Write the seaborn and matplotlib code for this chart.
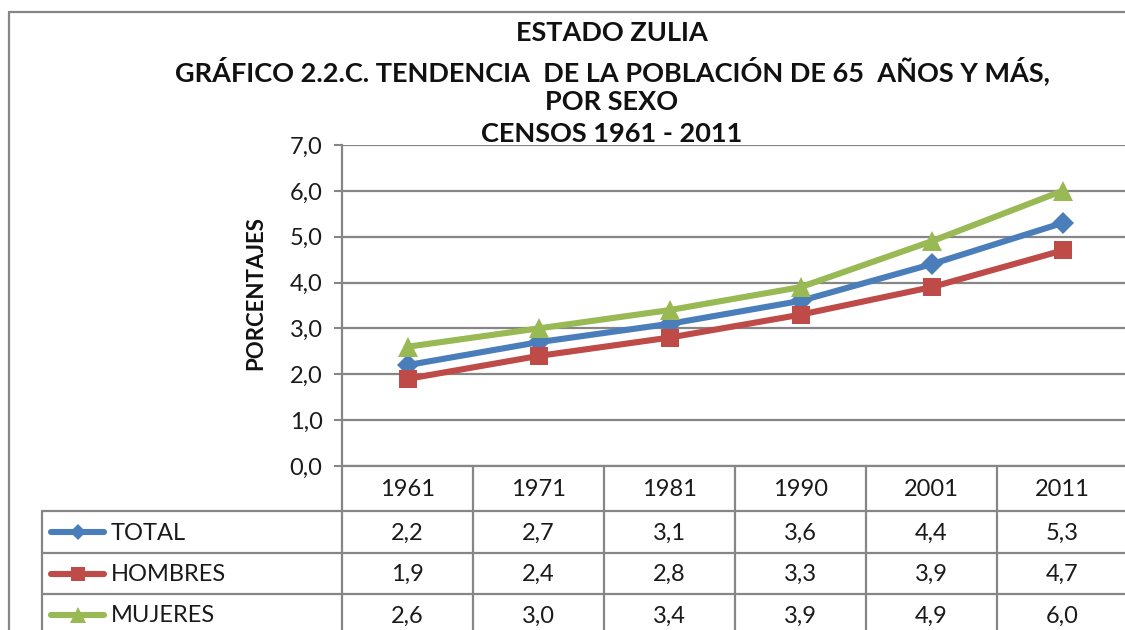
import matplotlib
matplotlib.use("Agg")
import matplotlib.pyplot as plt
import seaborn as sns
import pandas as pd

years = ["1961", "1971", "1981", "1990", "2001", "2011"]
series_names = ["TOTAL", "HOMBRES", "MUJERES"]
total = [2.2, 2.7, 3.1, 3.6, 4.4, 5.3]
hombres = [1.9, 2.4, 2.8, 3.3, 3.9, 4.7]
mujeres = [2.6, 3.0, 3.4, 3.9, 4.9, 6.0]
yticks = [0, 1, 2, 3, 4, 5, 6, 7]
title_lines = ["ESTADO ZULIA",
               "GRÁFICO 2.2.C. TENDENCIA  DE LA POBLACIÓN DE 65  AÑOS Y MÁS,",
               "POR SEXO",
               "CENSOS 1961 - 2011"]
ylabel = "PORCENTAJES"

colors = {"TOTAL": "#4A7EBB", "HOMBRES": "#BE4B48", "MUJERES": "#98B954"}
markers = {"TOTAL": "D", "HOMBRES": "s", "MUJERES": "^"}
msizes = {"TOTAL": 11, "HOMBRES": 13, "MUJERES": 15}

values = {"TOTAL": total, "HOMBRES": hombres, "MUJERES": mujeres}
rows = []
for s in series_names:
    for i, y in enumerate(years):
        rows.append({"idx": i, "year": y, "serie": s, "valor": values[s][i]})
df = pd.DataFrame(rows)

sns.set_theme(style="white")
plt.rcParams['font.family'] = ['Lato', 'DejaVu Sans']

W, H = 1125, 630
fig = plt.figure(figsize=(W / 100, H / 100), dpi=100)

def fx(px):
    return px / W
def fy(py):
    return 1 - py / H

left_px, right_px, top_px, bot_px = 342, 1128, 145, 466
col_w = (right_px - left_px) / len(years)

ax = fig.add_axes([fx(left_px), fy(bot_px), fx(right_px) - fx(left_px), fy(top_px) - fy(bot_px)])
for s in series_names:
    sub = df[df.serie == s]
    sns.lineplot(data=sub, x="idx", y="valor", ax=ax, color=colors[s], linewidth=4.4,
                 marker=markers[s], markersize=msizes[s], markeredgewidth=0,
                 legend=False, zorder=3)
ax.set_xlim(-0.5, len(years) - 0.5)
ax.set_ylim(0, 7)
ax.set_yticks(yticks)
ax.set_yticklabels([f"{v:.1f}".replace(".", ",") for v in yticks], fontsize=17, color="#1a1a1a")
ax.set_xticks([])
ax.set_xlabel("")
ax.set_ylabel("")
ax.tick_params(axis="y", which="both", left=True, length=6, width=1.5, color="#868686", pad=8)
for v in yticks:
    ax.axhline(v, color="#868686", linewidth=1.6, zorder=1)
for sp in ["top", "right", "bottom"]:
    ax.spines[sp].set_visible(False)
ax.spines["left"].set_color("#868686")
ax.spines["left"].set_linewidth(1.6)
ax.patch.set_alpha(0)

ov = fig.add_axes([0, 0, 1, 1], zorder=0)
ov.set_xlim(0, W)
ov.set_ylim(H, 0)
ov.axis("off")
ov.patch.set_alpha(0)

gc = "#868686"
ov.plot([9, W + 5], [12, 12], color=gc, lw=1.6)
ov.plot([9, 9], [12, H + 5], color=gc, lw=1.6)

ty = [33, 71, 102, 134]
for t, y in zip(title_lines, ty):
    ov.text(612, y, t, ha="center", va="center", fontsize=19.5, fontweight="bold", color="#111111")

ov.text(256, 293, ylabel, rotation=90, ha="center", va="center", fontsize=16,
        fontweight="bold", color="#111111")

row_lines = [466, 511, 553, 594, 636]
tab_left = 42
ov.plot([left_px, right_px], [row_lines[0], row_lines[0]], color=gc, lw=1.6)
for y in row_lines[1:4]:
    ov.plot([tab_left, right_px], [y, y], color=gc, lw=1.6)
for i in range(len(years) + 1):
    x = left_px + i * col_w
    ov.plot([x, x], [row_lines[0], H + 5], color=gc, lw=1.6)
ov.plot([tab_left, tab_left], [row_lines[1], H + 5], color=gc, lw=1.6)

for i, y in enumerate(years):
    cx = left_px + (i + 0.5) * col_w
    ov.text(cx, (row_lines[0] + row_lines[1]) / 2 + 1, y, ha="center", va="center",
            fontsize=17, color="#1a1a1a")
for r, s in enumerate(series_names):
    cy = (row_lines[r + 1] + row_lines[r + 2]) / 2
    for i, v in enumerate(values[s]):
        cx = left_px + (i + 0.5) * col_w
        ov.text(cx, cy + 1, f"{v:.1f}".replace(".", ","), ha="center", va="center",
                fontsize=17, color="#1a1a1a")
    ov.plot([51, 104], [cy, cy], color=colors[s], lw=4.4, solid_capstyle="round")
    ov.plot([78], [cy], marker=markers[s], color=colors[s], markersize=msizes[s] * 0.75,
            markeredgewidth=0)
    ov.text(111, cy + 1, s, ha="left", va="center", fontsize=17, color="#1a1a1a")

fig.savefig("out.png", dpi=100)
